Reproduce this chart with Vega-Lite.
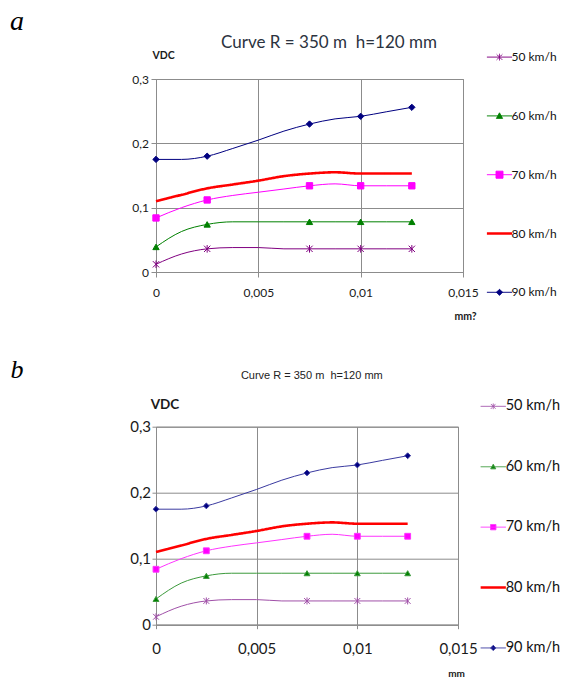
{
  "$schema": "https://vega.github.io/schema/vega-lite/v6.json",
  "background": "white",
  "padding": {"left": 9, "top": 7, "right": 0, "bottom": 0},
  "bounds": "flush",
  "spacing": 154.7,
  "datasets": {
    "d": [
      {"s": "50 km/h", "x": 0, "y": 0.012, "m": true},
      {"s": "50 km/h", "x": 0.00125, "y": 0.028, "m": false},
      {"s": "50 km/h", "x": 0.0025, "y": 0.036, "m": true},
      {"s": "50 km/h", "x": 0.00375, "y": 0.038, "m": false},
      {"s": "50 km/h", "x": 0.005, "y": 0.038, "m": false},
      {"s": "50 km/h", "x": 0.00625, "y": 0.036, "m": false},
      {"s": "50 km/h", "x": 0.0075, "y": 0.036, "m": true},
      {"s": "50 km/h", "x": 0.00875, "y": 0.036, "m": false},
      {"s": "50 km/h", "x": 0.01, "y": 0.036, "m": true},
      {"s": "50 km/h", "x": 0.01125, "y": 0.036, "m": false},
      {"s": "50 km/h", "x": 0.0125, "y": 0.036, "m": true},
      {"s": "60 km/h", "x": 0, "y": 0.039, "m": true},
      {"s": "60 km/h", "x": 0.00125, "y": 0.063, "m": false},
      {"s": "60 km/h", "x": 0.0025, "y": 0.074, "m": true},
      {"s": "60 km/h", "x": 0.00375, "y": 0.078, "m": false},
      {"s": "60 km/h", "x": 0.005, "y": 0.078, "m": false},
      {"s": "60 km/h", "x": 0.00625, "y": 0.078, "m": false},
      {"s": "60 km/h", "x": 0.0075, "y": 0.078, "m": true},
      {"s": "60 km/h", "x": 0.00875, "y": 0.078, "m": false},
      {"s": "60 km/h", "x": 0.01, "y": 0.078, "m": true},
      {"s": "60 km/h", "x": 0.01125, "y": 0.078, "m": false},
      {"s": "60 km/h", "x": 0.0125, "y": 0.078, "m": true},
      {"s": "70 km/h", "x": 0, "y": 0.084, "m": true},
      {"s": "70 km/h", "x": 0.00125, "y": 0.1, "m": false},
      {"s": "70 km/h", "x": 0.0025, "y": 0.112, "m": true},
      {"s": "70 km/h", "x": 0.00375, "y": 0.119, "m": false},
      {"s": "70 km/h", "x": 0.005, "y": 0.124, "m": false},
      {"s": "70 km/h", "x": 0.00625, "y": 0.129, "m": false},
      {"s": "70 km/h", "x": 0.0075, "y": 0.134, "m": true},
      {"s": "70 km/h", "x": 0.00875, "y": 0.137, "m": false},
      {"s": "70 km/h", "x": 0.01, "y": 0.134, "m": true},
      {"s": "70 km/h", "x": 0.01125, "y": 0.134, "m": false},
      {"s": "70 km/h", "x": 0.0125, "y": 0.134, "m": true},
      {"s": "80 km/h", "x": 0, "y": 0.11, "m": false},
      {"s": "80 km/h", "x": 0.00125, "y": 0.12, "m": false},
      {"s": "80 km/h", "x": 0.0025, "y": 0.13, "m": false},
      {"s": "80 km/h", "x": 0.00375, "y": 0.136, "m": false},
      {"s": "80 km/h", "x": 0.005, "y": 0.142, "m": false},
      {"s": "80 km/h", "x": 0.00625, "y": 0.149, "m": false},
      {"s": "80 km/h", "x": 0.0075, "y": 0.153, "m": false},
      {"s": "80 km/h", "x": 0.00875, "y": 0.155, "m": false},
      {"s": "80 km/h", "x": 0.01, "y": 0.153, "m": false},
      {"s": "80 km/h", "x": 0.01125, "y": 0.153, "m": false},
      {"s": "80 km/h", "x": 0.0125, "y": 0.153, "m": false},
      {"s": "90 km/h", "x": 0, "y": 0.175, "m": true},
      {"s": "90 km/h", "x": 0.00125, "y": 0.175, "m": false},
      {"s": "90 km/h", "x": 0.0025, "y": 0.18, "m": true},
      {"s": "90 km/h", "x": 0.00375, "y": 0.192, "m": false},
      {"s": "90 km/h", "x": 0.005, "y": 0.205, "m": false},
      {"s": "90 km/h", "x": 0.00625, "y": 0.219, "m": false},
      {"s": "90 km/h", "x": 0.0075, "y": 0.23, "m": true},
      {"s": "90 km/h", "x": 0.00875, "y": 0.238, "m": false},
      {"s": "90 km/h", "x": 0.01, "y": 0.242, "m": true},
      {"s": "90 km/h", "x": 0.01125, "y": 0.249, "m": false},
      {"s": "90 km/h", "x": 0.0125, "y": 0.256, "m": true}
    ]
  },
  "resolve": {
    "scale": {"stroke": "independent", "fill": "independent", "shape": "independent", "strokeDash": "independent", "x": "independent", "y": "independent"},
    "legend": {"stroke": "independent", "fill": "independent", "shape": "independent", "strokeDash": "independent"}
  },
  "vconcat": [
    {
      "width": 307,
      "height": 193,
      "data": {"name": "d"},
      "resolve": {"axis": {"x": "independent", "y": "independent"}},
      "layer": [
        {
          "transform": [{"filter": "datum.s !== '80 km/h'"}],
          "mark": {"type": "line", "interpolate": "monotone", "strokeWidth": 1},
          "encoding": {
            "x": {"field": "x", "type": "quantitative", "scale": {"domain": [0, 0.015], "nice": false, "zero": false},
              "axis": {"orient": "bottom", "values": [0, 0.005, 0.01, 0.015], "labelExpr": "replace(toString(datum.value), '.', ',')", "labelFlush": false, "labelOverlap": false, "grid": true, "tickSize": 5, "labelPadding": 15, "labelBaseline": "middle", "labelFontSize": 12, "title": "mm?", "titleX": 309, "titleY": 44, "titleAlign": "center", "titleBaseline": "middle", "titleFontSize": 10.5, "titleFontWeight": "bold"}},
            "y": {"field": "y", "type": "quantitative", "scale": {"domain": [0, 0.3], "nice": false},
              "axis": {"orient": "left", "values": [0, 0.1, 0.2, 0.3], "labelExpr": "replace(toString(datum.value), '.', ',')", "labelFlush": false, "labelOverlap": false, "grid": true, "tickSize": 5, "labelPadding": 2.5, "labelFontSize": 12, "title": "VDC", "titleAngle": 0, "titleX": 7, "titleY": -24, "titleAlign": "center", "titleBaseline": "middle", "titleFontSize": 10.5, "titleFontWeight": "bold"}},
            "stroke": {"field": "s", "type": "nominal", "scale": {"range": ["#800080", "#008000", "#ff00ff", "#000080"]}, "legend": null}
          }
        },
        {
          "transform": [{"filter": "datum.s === '80 km/h'"}],
          "mark": {"type": "line", "interpolate": "monotone", "strokeWidth": 2.6, "color": "#ff0000"},
          "encoding": {
            "x": {"field": "x", "type": "quantitative", "axis": null},
            "y": {"field": "y", "type": "quantitative", "axis": null},
            "strokeDash": {"field": "s", "type": "nominal",
              "scale": {"domain": ["50 km/h", "60 km/h", "70 km/h", "80 km/h", "90 km/h"], "range": [[1, 0], [1, 0], [1, 0], [1, 0], [1, 0]]},
              "legend": {
                "title": null, "orient": "none", "legendX": 337.5, "legendY": -27.9, "direction": "vertical", "padding": 0,
                "symbolSize": 784, "rowPadding": 46.8, "labelOffset": 6, "labelFontSize": 12, "labelColor": "#111111",
                "encoding": {"symbols": {
                  "shape": {"value": {"expr": "datum.value === '50 km/h' ? 'M-0.9,0L0.9,0M-0.2,-0.2L0.2,0.2M-0.2,0.2L0.2,-0.2M0,-0.24L0,0.24' : datum.value === '60 km/h' ? 'M-0.9,0L0.9,0M-0.22,0.18L0,-0.22L0.22,0.18Z' : datum.value === '70 km/h' ? 'M-0.9,0L0.9,0M-0.25,-0.25L0.25,-0.25L0.25,0.25L-0.25,0.25Z' : datum.value === '80 km/h' ? 'M-0.9,0L0.9,0' : 'M-0.9,0L0.9,0M0,-0.22L0.22,0L0,0.22L-0.22,0Z'"}},
                  "fill": {"value": {"expr": "datum.value === '50 km/h' ? '#800080' : datum.value === '60 km/h' ? '#008000' : datum.value === '70 km/h' ? '#ff00ff' : datum.value === '80 km/h' ? '#ff0000' : '#000080'"}},
                  "stroke": {"value": {"expr": "datum.value === '50 km/h' ? '#800080' : datum.value === '60 km/h' ? '#008000' : datum.value === '70 km/h' ? '#ff00ff' : datum.value === '80 km/h' ? '#ff0000' : '#000080'"}},
                  "strokeWidth": {"value": {"expr": "datum.value === '80 km/h' ? 2.6 : 1"}},
                  "opacity": {"value": 1}, "fillOpacity": {"value": 1}, "strokeOpacity": {"value": 1}
                }}
              }}
          }
        },
        {
          "transform": [{"filter": "datum.m"}],
          "mark": {"type": "point", "filled": true, "strokeWidth": 1, "opacity": 1, "size": 40},
          "encoding": {
            "x": {"field": "x", "type": "quantitative",
              "axis": {"orient": "top", "domain": false, "ticks": false, "labels": false, "grid": false, "title": "Curve R = 350 m\u00a0\u00a0h=120 mm", "titleX": 172.5, "titleY": -31.5, "titleAlign": "center", "titleBaseline": "alphabetic", "titleFontSize": 17, "titleFontWeight": "normal", "titleColor": "#2b3340"}},
            "y": {"field": "y", "type": "quantitative",
              "axis": {"orient": "right", "domain": false, "ticks": false, "labels": false, "grid": false, "title": "a", "titleAngle": 0, "titleX": -453.5, "titleY": -49.3, "titleAlign": "left", "titleBaseline": "alphabetic", "titleFont": "Liberation Serif", "titleFontStyle": "italic", "titleFontSize": 28, "titleFontWeight": "normal", "titleColor": "#000000"}},
            "fill": {"field": "s", "type": "nominal", "scale": {"range": ["#800080", "#008000", "#ff00ff", "#000080"]}, "legend": null},
            "stroke": {"field": "s", "type": "nominal", "legend": null},
            "shape": {"field": "s", "type": "nominal", "scale": {"range": ["M-1,-1L1,1M-1,1L1,-1M0,-1.2L0,1.2", "triangle-up", "square", "diamond"]}, "legend": null}
          }
        }
      ]
    },
    {
      "width": 302,
      "height": 198,
      "data": {"name": "d"},
      "resolve": {"axis": {"x": "independent", "y": "independent"}},
      "layer": [
        {
          "transform": [{"filter": "datum.s !== '80 km/h'"}],
          "mark": {"type": "line", "interpolate": "monotone", "strokeWidth": 1},
          "encoding": {
            "x": {"field": "x", "type": "quantitative", "scale": {"domain": [0, 0.015], "nice": false, "zero": false},
              "axis": {"orient": "bottom", "values": [0, 0.005, 0.01, 0.015], "labelExpr": "replace(toString(datum.value), '.', ',')", "labelFlush": false, "labelOverlap": false, "grid": true, "tickSize": 4, "labelPadding": 19.5, "labelBaseline": "middle", "labelFontSize": 15, "title": "mm", "titleX": 300, "titleY": 48.5, "titleAlign": "center", "titleBaseline": "middle", "titleFontSize": 10, "titleFontWeight": "bold"}},
            "y": {"field": "y", "type": "quantitative", "scale": {"domain": [0, 0.3], "nice": false},
              "axis": {"orient": "left", "values": [0, 0.1, 0.2, 0.3], "labelExpr": "replace(toString(datum.value), '.', ',')", "labelFlush": false, "labelOverlap": false, "grid": true, "tickSize": 4, "labelPadding": 1.5, "labelFontSize": 15, "title": "VDC", "titleAngle": 0, "titleX": 8.5, "titleY": -22, "titleAlign": "center", "titleBaseline": "middle", "titleFontSize": 13.5, "titleFontWeight": "bold"}},
            "stroke": {"field": "s", "type": "nominal", "scale": {"range": ["#a050a8", "#3c9a3c", "#ff33ff", "#3a3aa0"]}, "legend": null}
          }
        },
        {
          "transform": [{"filter": "datum.s === '80 km/h'"}],
          "mark": {"type": "line", "interpolate": "monotone", "strokeWidth": 2.6, "color": "#ff0000"},
          "encoding": {
            "x": {"field": "x", "type": "quantitative", "axis": null},
            "y": {"field": "y", "type": "quantitative", "axis": null},
            "strokeDash": {"field": "s", "type": "nominal",
              "scale": {"domain": ["50 km/h", "60 km/h", "70 km/h", "80 km/h", "90 km/h"], "range": [[1, 0], [1, 0], [1, 0], [1, 0], [1, 0]]},
              "legend": {
                "title": null, "orient": "none", "legendX": 330, "legendY": -27.6, "direction": "vertical", "padding": 0,
                "symbolSize": 784, "rowPadding": 45.4, "labelOffset": 5.2, "labelFontSize": 14.5, "labelColor": "#111111",
                "encoding": {"symbols": {
                  "shape": {"value": {"expr": "datum.value === '50 km/h' ? 'M-0.9,0L0.9,0M-0.17,-0.17L0.17,0.17M-0.17,0.17L0.17,-0.17M0,-0.2L0,0.2' : datum.value === '60 km/h' ? 'M-0.9,0L0.9,0M-0.18,0.15L0,-0.18L0.18,0.15Z' : datum.value === '70 km/h' ? 'M-0.9,0L0.9,0M-0.19,-0.19L0.19,-0.19L0.19,0.19L-0.19,0.19Z' : datum.value === '80 km/h' ? 'M-0.9,0L0.9,0' : 'M-0.9,0L0.9,0M0,-0.19L0.19,0L0,0.19L-0.19,0Z'"}},
                  "fill": {"value": {"expr": "datum.value === '50 km/h' ? '#a050a8' : datum.value === '60 km/h' ? '#008000' : datum.value === '70 km/h' ? '#ff00ff' : datum.value === '80 km/h' ? '#ff0000' : '#000080'"}},
                  "stroke": {"value": {"expr": "datum.value === '50 km/h' ? '#a050a8' : datum.value === '60 km/h' ? '#3c9a3c' : datum.value === '70 km/h' ? '#ff33ff' : datum.value === '80 km/h' ? '#ff0000' : '#3a3aa0'"}},
                  "strokeWidth": {"value": {"expr": "datum.value === '80 km/h' ? 2.6 : 1"}},
                  "opacity": {"value": 1}, "fillOpacity": {"value": 1}, "strokeOpacity": {"value": 1}
                }}
              }}
          }
        },
        {
          "transform": [{"filter": "datum.m"}],
          "mark": {"type": "point", "filled": true, "strokeWidth": 1, "opacity": 1, "size": 34},
          "encoding": {
            "x": {"field": "x", "type": "quantitative",
              "axis": {"orient": "top", "domain": false, "ticks": false, "labels": false, "grid": false, "title": "Curve R = 350 m\u00a0\u00a0h=120 mm", "titleX": 155.3, "titleY": -48.4, "titleAlign": "center", "titleBaseline": "alphabetic", "titleFont": "Liberation Sans", "titleFontSize": 11, "titleFontWeight": "normal", "titleColor": "#222222"}},
            "y": {"field": "y", "type": "quantitative",
              "axis": {"orient": "right", "domain": false, "ticks": false, "labels": false, "grid": false, "title": "b", "titleAngle": 0, "titleX": -448, "titleY": -49, "titleAlign": "left", "titleBaseline": "alphabetic", "titleFont": "Liberation Serif", "titleFontStyle": "italic", "titleFontSize": 26, "titleFontWeight": "normal", "titleColor": "#000000"}},
            "fill": {"field": "s", "type": "nominal", "scale": {"range": ["#a050a8", "#008000", "#ff00ff", "#000080"]}, "legend": null},
            "stroke": {"field": "s", "type": "nominal", "legend": null},
            "shape": {"field": "s", "type": "nominal", "scale": {"range": ["M-1,-1L1,1M-1,1L1,-1M0,-1.2L0,1.2", "triangle-up", "square", "diamond"]}, "legend": null}
          }
        }
      ]
    }
  ],
  "config": {
    "font": "Lato",
    "view": {"stroke": "#8c8c8c", "strokeWidth": 1},
    "axis": {"gridColor": "#8c8c8c", "gridOpacity": 1, "gridWidth": 1, "domainColor": "#8c8c8c", "tickColor": "#8c8c8c", "labelColor": "#1a1a1a", "titleColor": "#1a1a1a", "labelFont": "Lato", "titleFont": "Lato"},
    "legend": {"labelFont": "Lato"}
  }
}
